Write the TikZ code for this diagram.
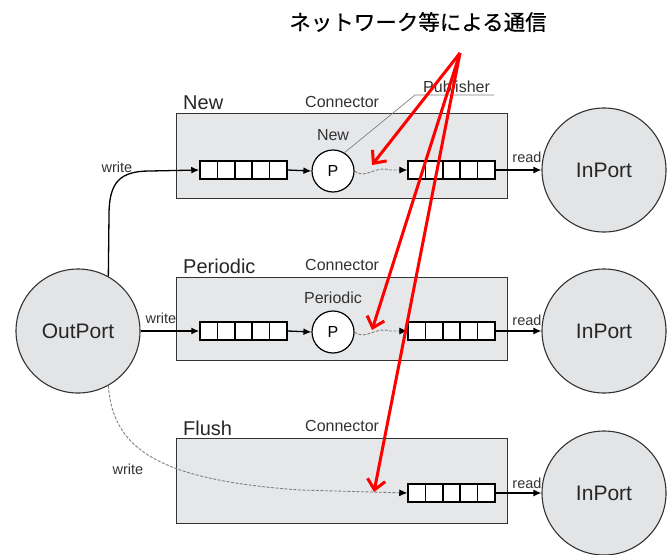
\documentclass[tikz,border=0pt]{standalone}
\usepackage{fontspec}
\setmainfont{Liberation Sans}
\newfontfamily\cjk[FakeBold=0.6]{Noto Sans CJK JP}
\usetikzlibrary{arrows.meta,calc}
\definecolor{boxgray}{HTML}{E6E7E9}
\definecolor{circgray}{HTML}{E3E4E6}
\definecolor{linegray}{HTML}{333333}
\begin{document}
\begin{tikzpicture}[x=1pt,y=-1pt,
  conn/.style={draw=linegray, line width=1.4pt, fill=boxgray, minimum width=331pt, minimum height=#1, anchor=north west, inner sep=0pt},
  queue/.style={draw=black, fill=white, line width=1.5pt, minimum width=87pt, minimum height=18pt, inner sep=0pt,
    path picture={\foreach \i in {1,2,3,4}{\draw[line width=1.5pt] ($(path picture bounding box.south west)!\i/5!(path picture bounding box.south east)$) -- ($(path picture bounding box.north west)!\i/5!(path picture bounding box.north east)$);}}},
  pub/.style={circle, draw=black, fill=white, line width=1.2pt, minimum size=42pt, inner sep=0pt, font=\fontsize{16}{18}\selectfont},
  port/.style={circle, draw=linegray, fill=circgray, line width=1.1pt, minimum size=124pt, inner sep=0pt, font=\fontsize{21}{24}\selectfont, text=black!85},
  boxlabel/.style={anchor=base west, inner sep=0pt, font=\fontsize{20}{24}\selectfont, text=black!85},
  small/.style={inner sep=0pt, font=\fontsize{16}{18}\selectfont, text=black!80},
  tiny/.style={inner sep=0pt, font=\fontsize{14.5}{16}\selectfont, text=black!80},
  flow/.style={line width=1.3pt, -{Latex[length=8pt,width=7pt]}},
  wave/.style={draw=gray, line width=0.9pt, dashed, dash pattern=on 3pt off 1.5pt, -{Latex[length=8pt,width=7pt,color=black]}},
  redarrow/.style={draw=red, line width=3pt, -{Straight Barb[length=10pt,width=18pt,line width=3pt]}}
]
\useasboundingbox (0,0) rectangle (668,554);

% title
\node[inner sep=0pt, font=\cjk\fontsize{21.5}{24}\selectfont] (title) at (418,22) {ネットワーク等による通信};

% connector boxes
\node[conn=85pt] (boxN) at (176,113) {};
\node[conn=83pt] (boxP) at (176,277) {};
\node[conn=85pt] (boxF) at (176,438) {};

\node[boxlabel] (labN) at (183,109) {New};
\node[boxlabel] (labP) at (183,273) {Periodic};
\node[boxlabel] (labF) at (183,435) {Flush};

\node[small, anchor=base west] (cN) at (305,107) {Connector};
\node[small, anchor=base west] (cP) at (305,270) {Connector};
\node[small, anchor=base west] (cF) at (305,431) {Connector};

% ports
\node[port] (out) at (78,331) {OutPort};
\node[port] (inN) at (604,170) {InPort};
\node[port] (inP) at (604,331) {InPort};
\node[port] (inF) at (604,493) {InPort};

% queues
\node[queue] (q1N) at (243.5,170) {};
\node[queue] (q2N) at (451.5,170) {};
\node[queue] (q1P) at (243.5,331) {};
\node[queue] (q2P) at (451.5,331) {};
\node[queue] (q2F) at (451.5,493) {};

% publishers
\node[pub] (pN) at (333,171) {P};
\node[pub] (pP) at (333,332) {P};
\node[small] (pNl) at (333,135) {New};
\node[small] (pPl) at (333,298) {Periodic};

% publisher callout
\node[small, anchor=base west] (publ) at (423,92) {Publisher};
\coordinate (pubA) at (415,95);
\coordinate (pubB) at (494,95);
\draw[gray, line width=0.7pt] (pN.58) -- (pubA) -- (pubB);

% write connections
\draw[flow] (out.61) -- (109,215) .. controls (109,182) and (120,171) .. (150,171) -- (q1N.west);
\draw[flow] (out.east) -- (q1P.west);
\draw[wave] (out.-61) .. controls (113,450) and (160,480) .. (300,490) -- (q2F.west);
\node[tiny] (wN) at (117,167) {write};
\node[tiny] (wP) at (161,318) {write};
\node[tiny] (wF) at (128,469) {write};

% internal
\draw[flow] (q1N.east) -- (pN.west);
\draw[flow] (q1P.east) -- (pP.west);
\draw[wave] (pN.east) .. controls (366,180) and (375,165) .. (390,170) -- (q2N.west);
\draw[wave] (pP.east) .. controls (366,341) and (375,326) .. (390,331) -- (q2P.west);

% reads
\draw[flow] (q2N.east) -- (inN.west);
\draw[flow] (q2P.east) -- (inP.west);
\draw[flow] (q2F.east) -- (inF.west);
\node[tiny] (rN) at (527,157) {read};
\node[tiny] (rP) at (527,320) {read};
\node[tiny] (rF) at (527,483) {read};

% red arrows
\coordinate (src) at (460,53);
\coordinate (tN) at (372,165);
\coordinate (tP) at (372,330);
\coordinate (tF) at (374,492);
\draw[redarrow] (src) -- (tN);
\draw[redarrow] (src) -- (tP);
\draw[redarrow] (src) -- (tF);
\end{tikzpicture}
\end{document}
